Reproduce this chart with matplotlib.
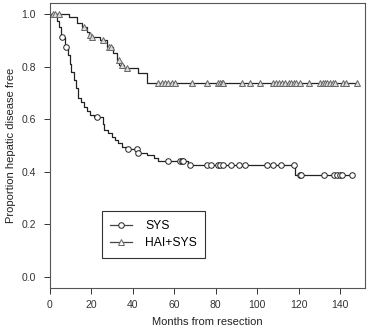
import numpy as np
import matplotlib
matplotlib.use("Agg")
import matplotlib.pyplot as plt
from matplotlib.lines import Line2D

plt.rcParams['font.family'] = ['Liberation Sans', 'DejaVu Sans']

# SYS arm: event times (months) and survival after each drop
sys_times = [3.5, 4.5, 5.3, 7.2, 8.5, 9.5, 10.3, 11.5, 12.5, 13.5, 15.0, 16.5, 17.7, 19.3, 21.0,
             25.7, 26.0, 28.2, 29.8, 31.4, 33.0, 34.6, 36.5, 42.3, 46.7, 50.0, 52.0, 66.8, 118.3]
sys_surv = [0.975, 0.95, 0.913, 0.876, 0.844, 0.81, 0.78, 0.75, 0.72, 0.68, 0.667, 0.645, 0.63, 0.616, 0.61,
            0.58, 0.56, 0.546, 0.533, 0.521, 0.508, 0.495, 0.486, 0.473, 0.464, 0.453, 0.442, 0.426, 0.388]
sys_censor = [5.6, 7.6, 22.5, 37.8, 42.1, 42.5, 57.1, 62.8, 63.6, 64.4, 67.5, 75.7, 77.6, 81.3, 82.1,
              83.4, 87.2, 91.4, 94.2, 104.9, 107.8, 111.5, 117.8, 120.4, 121.0, 132.0, 136.8, 138.4,
              139.7, 140.8, 145.7]

# HAI+SYS arm
hai_times = [9.0, 13.0, 15.3, 17.7, 19.0, 20.1, 24.1, 27.4, 30.6, 32.2, 33.5, 35.5, 42.6, 46.7]
hai_surv = [0.99, 0.965, 0.952, 0.933, 0.92, 0.913, 0.901, 0.876, 0.85, 0.825, 0.806, 0.794, 0.775, 0.737]
hai_censor = [1.3, 2.4, 4.5, 16.5, 19.5, 20.5, 25.5, 28.5, 29.5, 33.2, 34.8, 37.0, 52.3, 53.9, 55.5,
              57.1, 58.8, 60.4, 68.4, 75.7, 81.3, 82.1, 82.9, 83.7, 92.5, 96.6, 101.4, 107.8, 109.1,
              110.7, 111.9, 113.5, 115.1, 116.2, 117.5, 118.8, 120.7, 125.2, 130.4, 131.7, 132.8,
              133.9, 135.2, 136.5, 137.6, 141.3, 142.9, 148.1]


def km_value(t, times, surv):
    idx = np.searchsorted(times, t, side='right')
    return 1.0 if idx == 0 else surv[idx - 1]


fig = plt.figure(figsize=(3.71, 3.31), dpi=100)
ax = fig.add_axes([50 / 371, 43 / 331, 315 / 371, 285 / 331])

line_col = '#222222'
tri_edge = '#666666'
tri_fill = '#dcdcdc'

styles = [(sys_times, sys_surv, sys_censor, 'o', 4.0, 'white', line_col),
          (hai_times, hai_surv, hai_censor, '^', 5.0, tri_fill, tri_edge)]
for times, surv, cens, mk, ms, fc, ec in styles:
    end = max(cens)
    xs = [0] + times + [end]
    ys = [1.0] + surv + [surv[-1]]
    ax.step(xs, ys, where='post', color=line_col, lw=0.9)
    cy = [km_value(c, times, surv) for c in cens]
    ax.plot(cens, cy, ls='none', marker=mk, ms=ms, mfc=fc, mec=ec, mew=0.7)

handles = [Line2D([], [], color='#444444', lw=0.9, marker='o', ms=4.0, mfc='white', mec=line_col, mew=0.7),
           Line2D([], [], color='#444444', lw=0.9, marker='^', ms=5.0, mfc='white', mec=tri_edge, mew=0.7)]
leg = ax.legend(handles, ['SYS', 'HAI+SYS'], loc='lower left', bbox_to_anchor=(0.164, 0.106),
                borderaxespad=0, fancybox=False, framealpha=1, edgecolor='#333333', fontsize=8.7,
                handlelength=1.8, borderpad=0.7, labelspacing=0.45, handletextpad=1.1)
leg.get_frame().set_linewidth(0.8)

ax.set_xlim(0, 152)
ax.set_ylim(-0.042, 1.042)
ax.set_xticks(np.arange(0, 141, 20))
ax.set_yticks(np.arange(0, 1.01, 0.2))
ax.set_yticklabels(['0.0', '0.2', '0.4', '0.6', '0.8', '1.0'])
ax.tick_params(direction='out', length=4, width=0.7, labelsize=7.5, colors='#333333')
ax.tick_params(axis='y', pad=6)
ax.tick_params(axis='x', pad=5)
for s in ax.spines.values():
    s.set_color('#555555')
    s.set_linewidth(0.8)
ax.set_xlabel('Months from resection', fontsize=8, color='#222222', labelpad=5)
ax.set_ylabel('Proportion hepatic disease free', fontsize=8, color='#222222', labelpad=4)

fig.savefig('out.png', dpi=100)
